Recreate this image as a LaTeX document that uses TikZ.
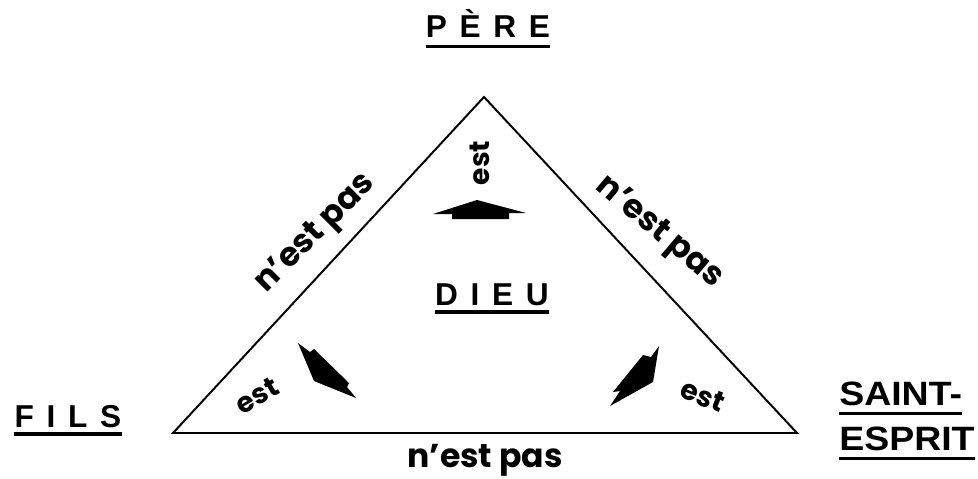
\documentclass[tikz,border=0pt]{standalone}
\usepackage{fontspec}
\setmainfont{Liberation Sans}
\newfontfamily\wideface{Liberation Sans}[FakeStretch=1.11]
\newfontfamily\geofont{Poppins}
\newcommand\lsp{\hspace{.4em}}

\begin{document}
\begin{tikzpicture}[x=0.025cm,y=-0.025cm,
    person/.style = {font=\fontsize{22.5}{27}\selectfont\bfseries, inner sep=0pt, anchor=base},
    spirit/.style = {font=\wideface\fontsize{24}{28}\selectfont\bfseries, inner sep=0pt, anchor=base west},
    link/.style = {font=\geofont\bfseries\fontsize{23.5}{28}\selectfont, inner sep=0pt},
    short/.style = {font=\geofont\bfseries\fontsize{20}{24}\selectfont, inner sep=0pt},
    ul/.style = {line width=2.2pt},
    tip/.style = {fill=black}]
    \useasboundingbox (0,0) rectangle (978,479);

    \coordinate (top) at (484,97);
    \coordinate (lft) at (173,433);
    \coordinate (rgt) at (797,433);
    \draw[line width=1.4pt] (top) -- (lft) -- (rgt) -- cycle;

    \node[person] (pere) at (488,38) {P\lsp È\lsp R\lsp E};
    \node[person] (dieu) at (492,305) {D\lsp I\lsp E\lsp U};
    \node[person] (fils) at (68,427) {F\lsp I\lsp L\lsp S};
    \node[spirit] (saint) at (839,405) {SAINT-};
    \node[spirit] (esprit) at (839,450) {ESPRIT};

    \draw[ul] ([yshift=-6pt]pere.base west) -- ([yshift=-6pt]pere.base east);
    \draw[ul] ([yshift=-5pt]dieu.base west) -- ([yshift=-5pt]dieu.base east);
    \draw[ul] ([yshift=-5pt]fils.base west) -- ([yshift=-5pt]fils.base east);
    \draw[ul] ([yshift=-6pt]saint.base west) -- ([yshift=-6pt]saint.base east);
    \draw[ul] ([yshift=-6pt]esprit.base west) -- ([yshift=-6pt]esprit.base east);

    \node[link,anchor=base] (np-bas) at (485,467) {n’est pas};
    \node[link,rotate=45] (np-gauche) at (316,234) {n’est pas};
    \node[link,rotate=-40] (np-droite) at (659,233) {n’est pas};

    \node[short,rotate=90] (est-haut) at (480,163) {est};
    \node[short,rotate=30] (est-gauche) at (257,396) {est};
    \node[short,rotate=-22] (est-droite) at (703,396) {est};

    %% arrows from the centre
    \fill[tip] (433,214) -- (477,200) -- (526,213) -- (509,213) -- (509,219) -- (452,219) -- (452,214) -- cycle;
    \fill[tip] (298,343) -- (310,352) -- (314,349) -- (349,383) -- (347,387) -- (356,398) -- (314,381) -- cycle;
    \fill[tip] (659,346) -- (651,357) -- (643,355) -- (613,392) -- (620,391) -- (610,406) -- (653,382) -- cycle;
\end{tikzpicture}
\end{document}
